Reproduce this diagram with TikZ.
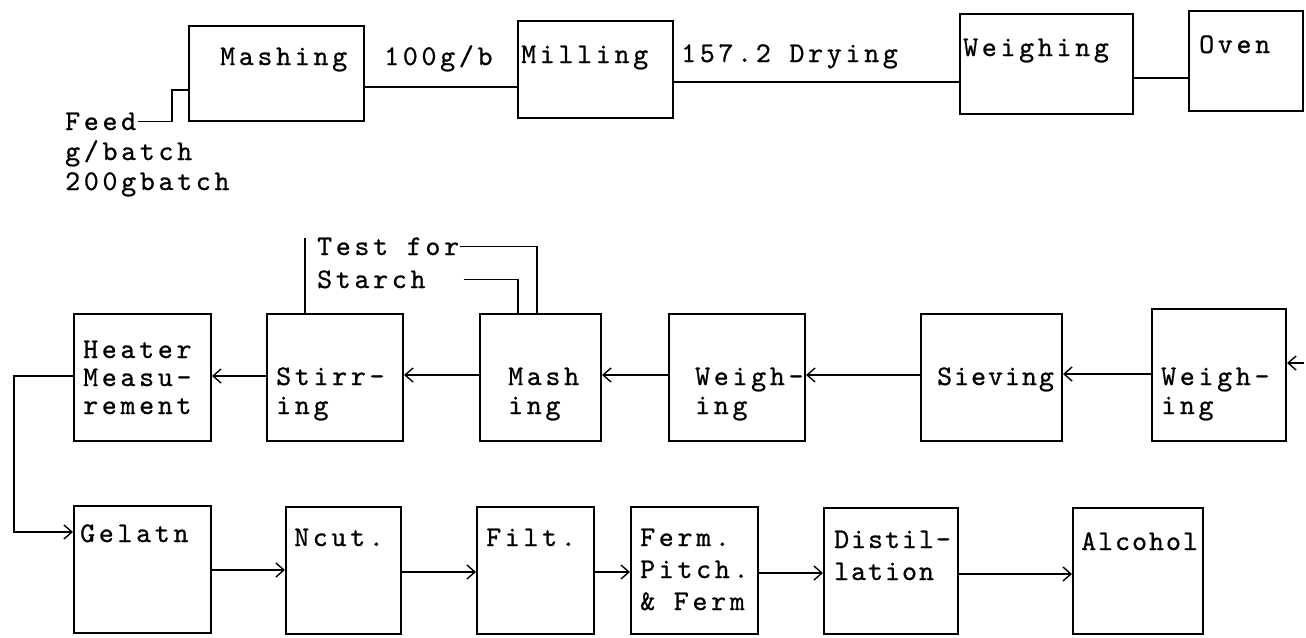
\documentclass[tikz,border=0pt]{standalone}
\usepackage{fontspec}
\newfontfamily\tw{lmmono10-regular.otf}[LetterSpace=13,FakeBold=0.7]
\newfontfamily\twn{lmmono10-regular.otf}[LetterSpace=7,FakeBold=0.7]
\usetikzlibrary{arrows.meta}
\newcommand\bx[5]{\node[box,minimum width={(#4-#2)*1pt},minimum height={(#5-#3)*1pt}] (#1) at (#2,#3) {};}
\begin{document}
\begin{tikzpicture}[x=1pt,y=-1pt,
  box/.style={draw,line width=2pt,inner sep=0pt,anchor=north west},
  lbl/.style={anchor=base west,inner sep=0pt,font=\tw\fontsize{28.5}{30}\selectfont},
  lbln/.style={anchor=base west,inner sep=0pt,font=\twn\fontsize{28.5}{30}\selectfont},
  ln/.style={line width=1.5pt},
  arr/.style={line width=1.4pt,-{Straight Barb[length=8pt,width=14pt,line width=1.4pt]}}]
\useasboundingbox (0,0) rectangle (1306,637);
\fill[white] (0,0) rectangle (1306,637);
% top row
\bx{mash1}{188}{25}{363}{120}
\bx{mill}{517}{20}{672}{117}
\bx{weighA}{959}{13}{1132}{113}
\bx{oven}{1188}{10}{1302}{110}
% middle row
\bx{heat}{73}{313}{210}{440}
\bx{stir}{266}{313}{402}{440}
\bx{mash2}{479}{313}{600}{440}
\bx{weighB}{668}{313}{804}{440}
\bx{sieve}{920}{313}{1061}{440}
\bx{weighC}{1151}{308}{1285}{440}
% bottom row
\bx{gel}{73}{505}{210}{632}
\bx{ncut}{285}{506}{400}{633}
\bx{filt}{476}{506}{593}{633}
\bx{ferm}{630}{506}{757}{633}
\bx{dist}{823}{507}{957}{633}
\bx{alc}{1072}{507}{1202}{633}
% texts top
\node[lbl] (tmash1) at (220,65) {Mashing};
\node[lbl] (tflow1) at (384,65) {100g/b};
\node[lbl] (tmill) at (521,63) {Milling};
\node[lbl] (tflow2) at (681,62) {157.2 Drying};
\node[lbl] (tweighA) at (963,56) {Weighing};
\node[lbl] (toven) at (1199,53) {Oven};
\node[lbl] (feed) at (65,130) {Feed};
\node[lbl] (feed2) at (65,160) {g/batch};
\node[lbl] (feed3) at (65,190) {200gbatch};
% texts middle
\node[lbl] (tf) at (317,255) {Test for};
\node[lbl] (st) at (317,288) {Starch};
\node[lbl] (heat1) at (83,358) {Heater};
\node[lbl] (heat2) at (83,386) {Measu-};
\node[lbl] (heat3) at (83,414) {rement};
\node[lbl] (stir1) at (276,385) {Stirr-};
\node[lbl] (stir2) at (276,414) {ing};
\node[lbl] (mash21) at (508,385) {Mash};
\node[lbl] (mash22) at (508,414) {ing};
\node[lbl] (wb1) at (695,385) {Weigh-};
\node[lbl] (wb2) at (695,414) {ing};
\node[lbln] (sv) at (937,385) {Sieving};
\node[lbl] (wc1) at (1161,385) {Weigh-};
\node[lbl] (wc2) at (1161,414) {ing};
% texts bottom
\node[lbl] (tgel) at (80,542) {Gelatn};
\node[lbl] (tncut) at (294,546) {Ncut.};
\node[lbl] (tfilt) at (486,546) {Filt.};
\node[lbl] (fe1) at (640,546) {Ferm.};
\node[lbl] (fe2) at (640,578) {Pitch.};
\node[lbl] (fe3) at (640,610) {\& Ferm};
\node[lbln] (di1) at (834,548) {Distil-};
\node[lbln] (di2) at (834,580) {lation};
\node[lbln] (talc) at (1081,550) {Alcohol};
% top connectors
\coordinate (j1) at (172,90);
\draw[ln] ([xshift=2pt]feed.east) -| (j1) -- (j1 -| mash1.west);
\draw[ln] (mash1.east |- 0,87) -- (mill.west |- 0,87);
\draw[ln] (mill.east |- 0,82) -- (weighA.west |- 0,82);
\draw[ln] (weighA.east |- 0,78) -- (oven.west |- 0,78);
% middle connectors
\coordinate (inR) at (1304,363);
\draw[arr] (inR) -- (weighC.east |- inR);
\draw[arr] (weighC.west |- 0,374) -- (sieve.east |- 0,374);
\draw[arr] (sieve.west |- 0,375) -- (weighB.east |- 0,375);
\draw[arr] (weighB.west |- 0,375) -- (mash2.east |- 0,375);
\draw[arr] (mash2.west |- 0,375) -- (stir.east |- 0,375);
\draw[arr] (stir.west |- 0,376) -- (heat.east |- 0,376);
\coordinate (lx) at (14,376);
\draw[arr] (heat.west |- lx) -- (lx) |- (gel.west |- 0,532);
% test for starch
\draw[ln] ([xshift=39pt]stir.north west) -- ++(0,-75);
\draw[ln] ([xshift=1pt]tf.east) -| ([xshift=58pt]mash2.north west);
\draw[ln] ([xshift=38pt]st.east) -| ([xshift=39pt]mash2.north west);
% bottom connectors
\draw[arr] (gel.east |- 0,570) -- (ncut.west |- 0,570);
\draw[arr] (ncut.east |- 0,572) -- (filt.west |- 0,572);
\draw[arr] (filt.east |- 0,572) -- (ferm.west |- 0,572);
\draw[arr] (ferm.east |- 0,573) -- (dist.west |- 0,573);
\draw[arr] (dist.east |- 0,574) -- (alc.west |- 0,574);
\end{tikzpicture}
\end{document}
